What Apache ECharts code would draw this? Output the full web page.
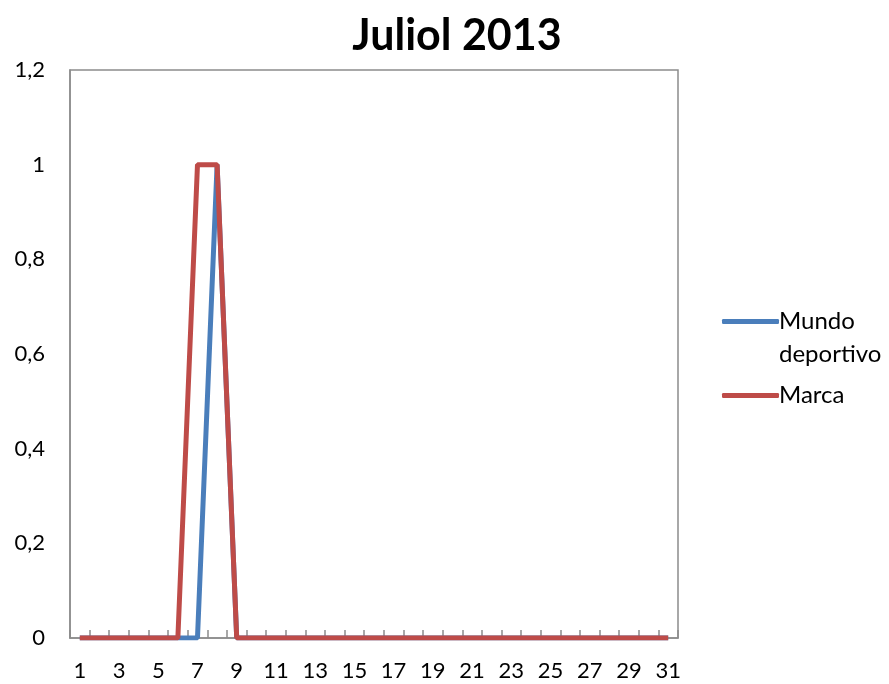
<!DOCTYPE html>
<html><head><meta charset="utf-8">
<script src="https://cdn.jsdelivr.net/npm/echarts@6/dist/echarts.min.js"></script>
<style>html,body{margin:0;padding:0;background:#fff}#c{width:889px;height:684px}</style>
</head><body><div id="c"></div>
<script>
const days = Array.from({length:31},(_,i)=>String(i+1));
const mundoDeportivo = [0,0,0,0,0,0,0,1,0,0,0,0,0,0,0,0,0,0,0,0,0,0,0,0,0,0,0,0,0,0,0];
const marca =          [0,0,0,0,0,0,1,1,0,0,0,0,0,0,0,0,0,0,0,0,0,0,0,0,0,0,0,0,0,0,0];
const seriesNames = ['Mundo deportivo','Marca'];
const titleText = 'Juliol 2013';
const font = 'Lato, "Open Sans", sans-serif';
const chart = echarts.init(document.getElementById('c'));
chart.setOption({
  animation:false,
  title:{text:titleText,left:452,top:10,textAlign:'center',textStyle:{fontFamily:font,fontSize:43,fontWeight:'bold',color:'#000'}},
  grid:{left:70,right:211,top:70,bottom:46,show:true,borderColor:'#8c8c8c',borderWidth:1.5,backgroundColor:'#fff'},
  legend:{orient:'vertical',left:722,top:272,padding:0,itemGap:8,icon:'roundRect',itemWidth:57,itemHeight:5,
    textStyle:{fontFamily:font,fontSize:24,color:'#000',lineHeight:33,padding:[0,0,0,-5]},
    formatter:n=>n==='Mundo deportivo'?' \nMundo\ndeportivo':n,
    data:seriesNames},
  xAxis:{type:'category',data:days,boundaryGap:true,
    axisLine:{lineStyle:{color:'#8c8c8c',width:1.5}},
    axisTick:{show:true,inside:true,interval:0,length:8,lineStyle:{color:'#8c8c8c',width:1.5}},
    axisLabel:{interval:1,margin:22,fontFamily:font,fontSize:22,color:'#000'}},
  yAxis:{type:'value',min:0,max:1.2,interval:0.2,splitLine:{show:false},
    axisLine:{show:true,lineStyle:{color:'#8c8c8c',width:1.5}},axisTick:{show:false},
    axisLabel:{margin:25,fontFamily:font,fontSize:22,color:'#000',formatter:v=>String(Math.round(v*10)/10).replace('.',',')}},
  series:[
    {name:seriesNames[0],type:'line',data:mundoDeportivo,symbol:'none',z:1,lineStyle:{width:5,color:'#4a7ebb'},itemStyle:{color:'#4a7ebb'}},
    {name:seriesNames[1],type:'line',data:marca,symbol:'none',z:1,lineStyle:{width:5,color:'#be4b48'},itemStyle:{color:'#be4b48'}}
  ]
});
</script></body></html>
